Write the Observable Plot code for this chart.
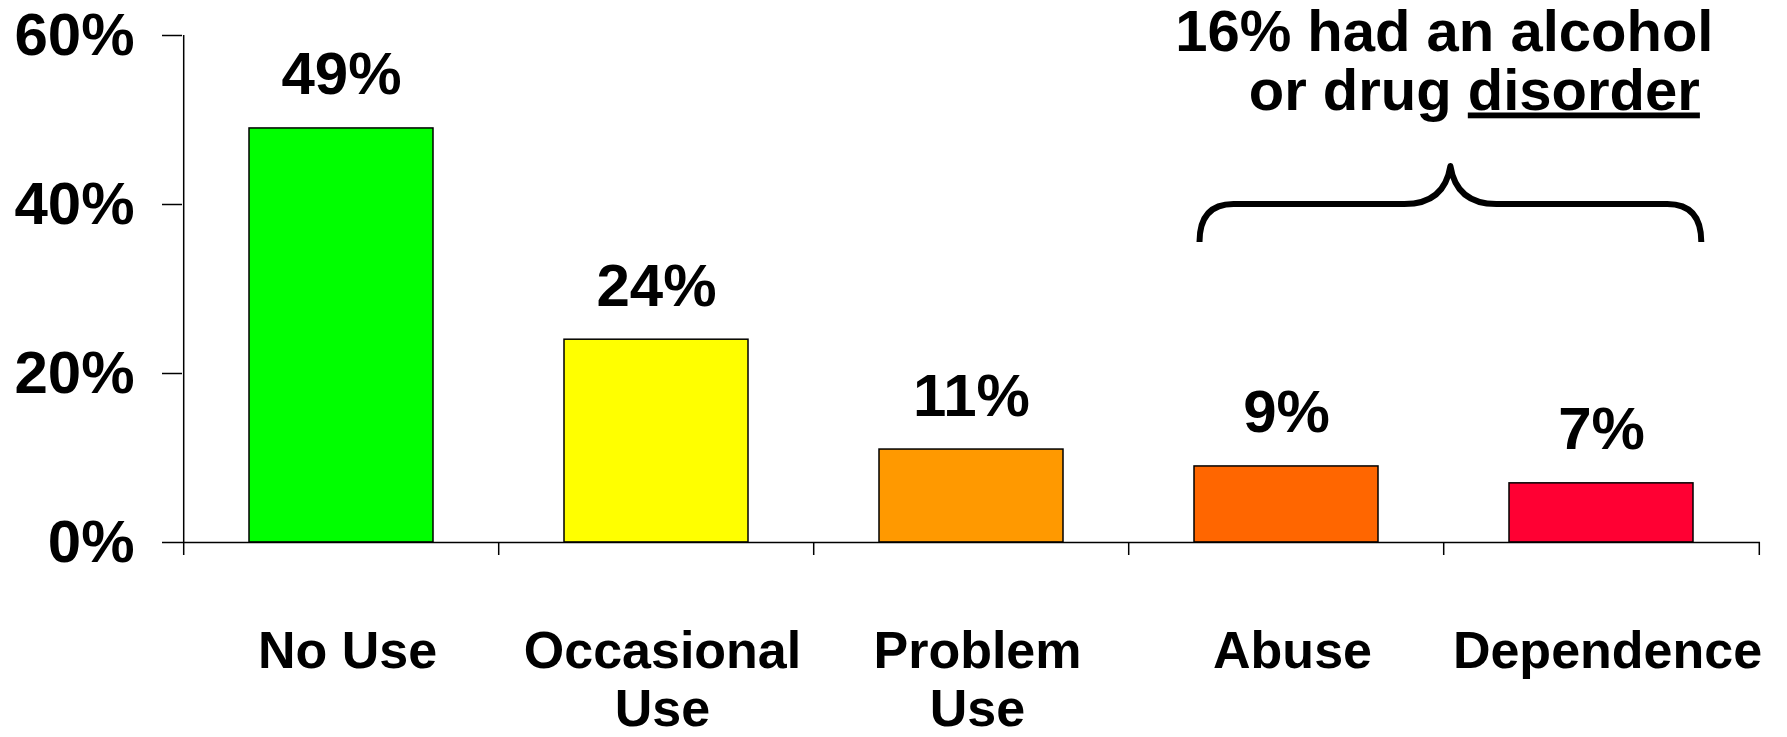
<!DOCTYPE html>
<html>
<head>
<meta charset="utf-8">
<script src="https://cdn.jsdelivr.net/npm/d3@7"></script>
<script src="https://cdn.jsdelivr.net/npm/@observablehq/plot@0.6"></script>
<style>
  html, body { margin: 0; padding: 0; background: #fff; }
  #chart svg { overflow: visible; }
</style>
</head>
<body>
<div id="chart"></div>
<script>
// ---- data ----
const categories = ["No Use", "Occasional\nUse", "Problem\nUse", "Abuse", "Dependence"];
const values = [49, 24, 11, 9, 7];
const barColors = ["#00FF00", "#FFFF00", "#FF9900", "#FF6600", "#FF0033"];
const yTicks = [0, 20, 40, 60];
const annotationLines = ["16% had an alcohol", "or drug disorder"];
const underlinedWord = "disorder";
const braceCategories = ["Abuse", "Dependence"];
const braceLevels = [35.5, 40, 44.5]; // ends, bar, tip (in % units)

// ---- layout ----
const W = 1787, H = 737;
const mL = 182, mR = 27, mT = 35, mB = 195;
const step = (W - mL - mR) / categories.length;
const font = "'Liberation Sans', Arial, Helvetica, sans-serif";

const table = categories.map((c, i) => ({category: c, value: values[i]}));

const chart = Plot.plot({
  width: W,
  height: H,
  marginLeft: mL,
  marginRight: mR,
  marginTop: mT,
  marginBottom: mB,
  style: {fontFamily: font, fontWeight: "bold", color: "black", background: "white", overflow: "visible"},
  x: {domain: categories, paddingInner: 0.417, paddingOuter: 0.2085, axis: null},
  y: {domain: [0, 60], axis: null},
  color: {domain: categories, range: barColors},
  marks: [
    Plot.barY(table, {x: "category", y: "value", fill: "category", stroke: "black", strokeWidth: 1.5}),
    // x axis line
    Plot.ruleY([0], {stroke: "black", strokeWidth: 1.5}),
    // y axis line at left boundary
    Plot.ruleX([categories[0]], {x: d => d, y1: 0, y2: 60, dx: -step / 2, stroke: "black", strokeWidth: 1.5}),
    // category boundary ticks
    Plot.ruleX(categories, {x: d => d, y1: 0, y2: 0, insetBottom: -13, dx: -step / 2, stroke: "black", strokeWidth: 1.5}),
    Plot.ruleX([categories[categories.length - 1]], {x: d => d, y1: 0, y2: 0, insetBottom: -13, dx: step / 2, stroke: "black", strokeWidth: 1.5}),
    Plot.axisY({ticks: yTicks, tickFormat: d => d + "%", label: null, tickSize: 20, tickPadding: 28, fontSize: 60, fontWeight: "bold", strokeWidth: 1.5}),
    // value labels
    Plot.text(table, {x: "category", y: "value", text: d => d.value + "%", dy: -34, lineAnchor: "bottom", fontSize: 60, fontWeight: "bold", fill: "black"}),
    // category labels
    Plot.text(table, {x: "category", y: () => 0, text: "category", lineAnchor: "top", dy: 85, dx: 6, fontSize: 52, lineHeight: 1.11, fontWeight: "bold", fill: "black"}),
    // annotation
    Plot.text([annotationLines[0]], {x: () => braceCategories[0], text: d => d, frameAnchor: "top", dy: 15, dx: step / 2, lineAnchor: "bottom", fontSize: 58, fontWeight: "bold", fill: "black"}),
    Plot.text([annotationLines[1]], {x: () => braceCategories[0], text: d => d, frameAnchor: "top", dy: 74, dx: step / 2 + 30, lineAnchor: "bottom", fontSize: 58, fontWeight: "bold", fill: "black"})
  ]
});

document.getElementById("chart").appendChild(chart);

// ---- underline "disorder" ----
const svg = d3.select(chart);
svg.selectAll("text").filter(function () { return this.textContent === annotationLines[1]; }).each(function () {
  const full = annotationLines[1];
  const idx = full.indexOf(underlinedWord);
  const t = d3.select(this);
  t.text(null);
  t.append("tspan").text(full.slice(0, idx));
  t.append("tspan").text(underlinedWord)
    .style("text-decoration", "underline")
    .style("text-decoration-thickness", "5px")
    .style("text-underline-offset", "10px");
});

// ---- brace drawn from the chart's own scales ----
const xs = chart.scale("x"), ys = chart.scale("y");
const xBand = d3.scaleBand(xs.domain, xs.range)
  .paddingInner(xs.paddingInner ?? 0.417)
  .paddingOuter(xs.paddingOuter ?? 0.2085)
  .align(xs.align ?? 0.5);
const yLin = d3.scaleLinear(ys.domain, ys.range);
const st = xBand.step();
const cx = (xBand(braceCategories[0]) + xBand.bandwidth() + xBand(braceCategories[1])) / 2 + 6;
const hw = 0.795 * st;
const L = cx - hw, R = cx + hw;
const yE = yLin(braceLevels[0]), yB = yLin(braceLevels[1]), yT = yLin(braceLevels[2]);
const rE = 34, rM = 46;
const p = d3.path();
p.moveTo(L, yE);
p.quadraticCurveTo(L, yB, L + rE, yB);
p.lineTo(cx - rM, yB);
p.quadraticCurveTo(cx - 6, yB, cx, yT);
p.quadraticCurveTo(cx + 6, yB, cx + rM, yB);
p.lineTo(R - rE, yB);
p.quadraticCurveTo(R, yB, R, yE);
svg.append("path").attr("d", p.toString()).attr("fill", "none").attr("stroke", "black").attr("stroke-width", 6).attr("stroke-linejoin", "round");
</script>
</body>
</html>
